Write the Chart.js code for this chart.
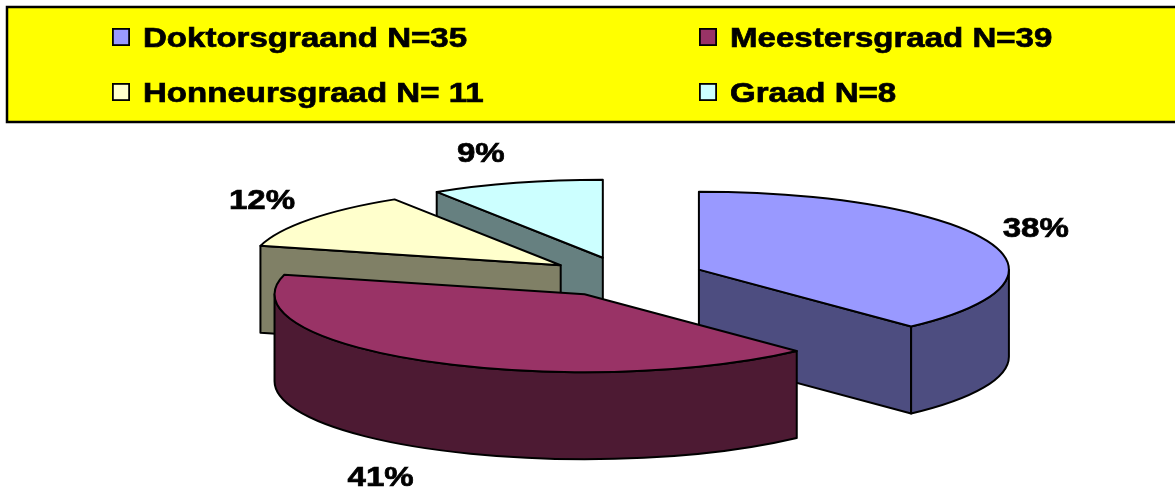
<!DOCTYPE html>
<html>
<head>
<meta charset="utf-8">
<script src="https://cdn.jsdelivr.net/npm/chart.js@4/dist/chart.umd.min.js"></script>
<style>
  html, body { margin: 0; padding: 0; background: #fff; }
  canvas { display: block; }
</style>
</head>
<body>
<canvas id="pieChart" width="1175" height="497"></canvas>
<script>
const categories   = ['Doktorsgraand', 'Meestersgraad', 'Honneursgraad', 'Graad'];
const legendLabels = ['Doktorsgraand N=35', 'Meestersgraad N=39', 'Honneursgraad N= 11', 'Graad N=8'];
const percentages  = [38, 41, 12, 9];
const topColors    = ['#9999FF', '#993366', '#FFFFCC', '#CCFFFF'];

const FONT = 'bold 28px "Liberation Sans", Arial, sans-serif';
const STRETCH = 1.18;   // text is drawn a bit wider than the plain font

function shade(hex) {
  const n = parseInt(hex.slice(1), 16);
  const r = (n >> 16) & 255, g = (n >> 8) & 255, b = n & 255;
  return `rgb(${Math.round(r / 2)},${Math.round(g / 2)},${Math.round(b / 2)})`;
}

function wideText(ctx, text, x, y, align) {
  ctx.save();
  ctx.translate(x, y);
  ctx.scale(STRETCH, 1);
  ctx.textAlign = align;
  ctx.textBaseline = 'alphabetic';
  ctx.lineWidth = 0.7;
  ctx.strokeStyle = ctx.fillStyle;
  ctx.fillText(text, 0, 0);
  ctx.strokeText(text, 0, 0);
  ctx.restore();
}

// geometry of every slice, taken from the arc elements Chart.js laid out
function sliceGeometry(chart) {
  const area = chart.chartArea;
  const rx = area.width / 2, ry = area.height / 2;
  return chart.getDatasetMeta(0).data.map((arc, i) => {
    const mid = (arc.startAngle + arc.endAngle) / 2;
    const k = (arc.options.offset || 0) / ry;
    return {
      i, rx, ry, mid,
      start: arc.startAngle,
      end: arc.endAngle,
      cx: arc.x + k * rx * Math.cos(mid),
      cy: arc.y + k * ry * Math.sin(mid),
      color: arc.options.backgroundColor
    };
  });
}

// tilted, extruded pie drawn in place of the flat arcs
const pie3d = {
  id: 'pie3d',
  beforeDatasetsDraw(chart, args, opts) {
    const ctx = chart.ctx;
    const h = opts.depth;
    const slices = sliceGeometry(chart).sort((a, b) => a.cy - b.cy);

    ctx.save();
    ctx.lineWidth = opts.lineWidth;
    ctx.strokeStyle = '#000';
    ctx.lineJoin = 'round';

    slices.forEach(s => {
      const side = shade(s.color);
      const rim = a => [s.cx + s.rx * Math.cos(a), s.cy + s.ry * Math.sin(a)];

      // cut faces at both edges of the slice, when they face the viewer
      [[s.start, s.start - Math.PI / 2], [s.end, s.end + Math.PI / 2]].forEach(([a, normal]) => {
        if (Math.sin(normal) <= 1e-6) return;
        const [x, y] = rim(a);
        ctx.beginPath();
        ctx.moveTo(s.cx, s.cy);
        ctx.lineTo(x, y);
        ctx.lineTo(x, y + h);
        ctx.lineTo(s.cx, s.cy + h);
        ctx.closePath();
        ctx.fillStyle = side;
        ctx.fill();
        ctx.stroke();
      });

      // curved outer wall, front half only
      const w0 = Math.max(s.start, 0), w1 = Math.min(s.end, Math.PI);
      if (w1 > w0) {
        ctx.beginPath();
        ctx.ellipse(s.cx, s.cy, s.rx, s.ry, 0, w0, w1);
        ctx.ellipse(s.cx, s.cy + h, s.rx, s.ry, 0, w1, w0, true);
        ctx.closePath();
        ctx.fillStyle = side;
        ctx.fill();
        ctx.stroke();
      }

      // top face
      ctx.beginPath();
      ctx.moveTo(s.cx, s.cy);
      ctx.ellipse(s.cx, s.cy, s.rx, s.ry, 0, s.start, s.end);
      ctx.closePath();
      ctx.fillStyle = s.color;
      ctx.fill();
      ctx.stroke();
    });
    ctx.restore();
    return false;
  },
  afterDraw(chart, args, opts) {
    const ctx = chart.ctx;
    const h = opts.depth;
    const values = chart.data.datasets[0].data;
    ctx.save();
    ctx.font = FONT;
    ctx.fillStyle = '#000';
    sliceGeometry(chart).forEach(s => {
      const ux = Math.cos(s.mid), uy = Math.sin(s.mid);
      let x = s.cx + s.rx * ux, y = s.cy + s.ry * uy;
      if (uy > 0) y += h;
      x += Math.sign(ux) * (10 + 6 * Math.abs(ux));
      y += Math.sign(uy) * (28 * Math.abs(uy) - 6);
      if (uy > 0) y += 20;   // hang the text below the point
      wideText(ctx, values[s.i] + '%', x, y, ux >= 0 ? 'left' : 'right');
    });
    ctx.restore();
  }
};

// yellow boxed legend, two columns
const boxLegend = {
  id: 'boxLegend',
  afterDraw(chart, args, opts) {
    const ctx = chart.ctx;
    const b = opts.box;
    ctx.save();
    ctx.fillStyle = '#FFFF00';
    ctx.fillRect(b.x, b.y, b.w, b.h);
    ctx.lineWidth = 2.5;
    ctx.strokeStyle = '#000';
    ctx.strokeRect(b.x, b.y, b.w, b.h);

    ctx.font = FONT;
    opts.labels.forEach((text, i) => {
      const x = opts.columns[i % 2];
      const y = opts.rows[Math.floor(i / 2)];
      ctx.fillStyle = chart.data.datasets[0].backgroundColor[i];
      ctx.fillRect(x, y - 19, 18, 18);
      ctx.lineWidth = 1.8;
      ctx.strokeStyle = '#000';
      ctx.strokeRect(x + 0.9, y - 18.1, 16.2, 16.2);
      ctx.fillStyle = '#000';
      wideText(ctx, text, x + 31, y, 'left');
    });
    ctx.restore();
  }
};

new Chart(document.getElementById('pieChart'), {
  type: 'pie',
  data: {
    labels: categories,
    datasets: [{
      data: percentages,
      backgroundColor: topColors,
      offset: 20
    }]
  },
  options: {
    responsive: false,
    animation: false,
    events: [],
    layout: { padding: { left: 315, right: 240, top: 199, bottom: 142 } },
    plugins: {
      legend: { display: false },
      tooltip: { enabled: false },
      pie3d: { depth: 87, lineWidth: 2 },
      boxLegend: {
        box: { x: 7, y: 7, w: 1180, h: 115 },
        labels: legendLabels,
        columns: [112, 699],
        rows: [47, 102]
      }
    }
  },
  plugins: [pie3d, boxLegend]
});
</script>
</body>
</html>
